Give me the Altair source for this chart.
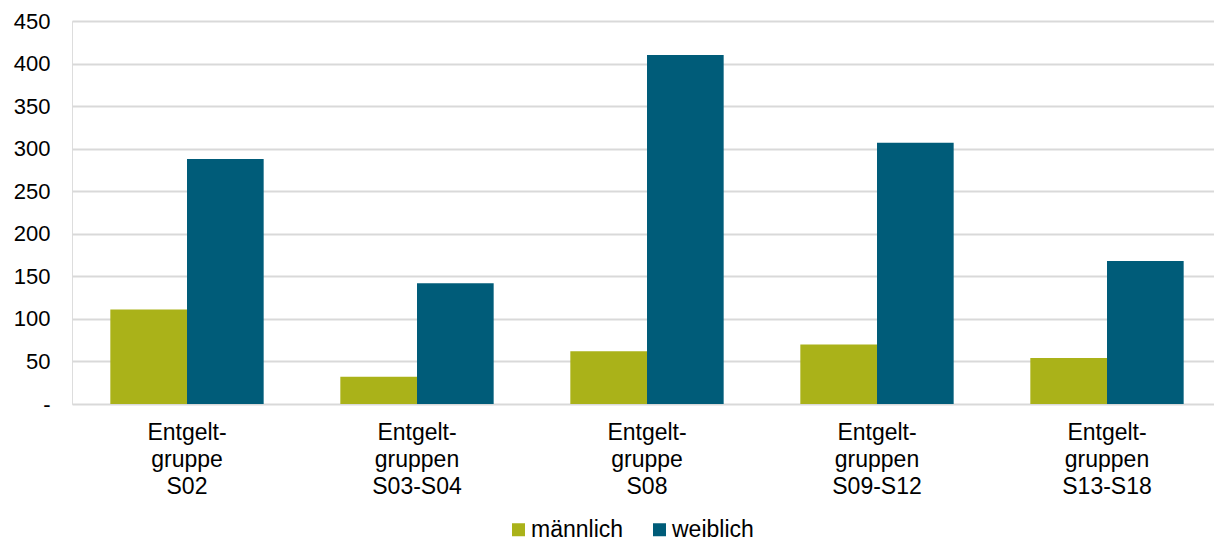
import altair as alt
import pandas as pd

categories = [
    "Entgelt-\ngruppe\nS02",
    "Entgelt-\ngruppen\nS03-S04",
    "Entgelt-\ngruppe\nS08",
    "Entgelt-\ngruppen\nS09-S12",
    "Entgelt-\ngruppen\nS13-S18",
]
series = ["männlich", "weiblich"]
maennlich = [111, 32, 62, 70, 54]
weiblich = [288, 142, 410, 307, 168]
y_ticks = [0, 50, 100, 150, 200, 250, 300, 350, 400, 450]
colors = ["#AAB219", "#005C79"]

rows = []
for c, m, w in zip(categories, maennlich, weiblich):
    rows.append({"Gruppe": c, "Geschlecht": series[0], "Wert": m})
    rows.append({"Gruppe": c, "Geschlecht": series[1], "Wert": w})
df = pd.DataFrame(rows)

FONT = "Liberation Sans"

chart = (
    alt.Chart(df)
    .mark_bar()
    .encode(
        x=alt.X(
            "Gruppe:N",
            sort=categories,
            title=None,
            scale=alt.Scale(paddingInner=1 / 3, paddingOuter=1 / 6, range=[0, 1150]),
            axis=alt.Axis(
                labelAngle=0,
                labelExpr="split(datum.label, '\\n')",
                labelFont=FONT,
                labelFontSize=23,
                labelColor="#000000",
                labelLineHeight=27,
                labelPadding=17,
                labelBaseline="top",
                ticks=False,
                domain=False,
                grid=False,
            ),
        ),
        xOffset=alt.XOffset(
            "Geschlecht:N",
            sort=series,
            scale=alt.Scale(paddingInner=0, paddingOuter=0),
        ),
        y=alt.Y(
            "Wert:Q",
            title=None,
            scale=alt.Scale(domain=[0, 450], nice=False),
            axis=alt.Axis(
                values=y_ticks,
                labelExpr="datum.value == 0 ? '-' : datum.label",
                labelFont=FONT,
                labelFontSize=22,
                labelColor="#000000",
                labelPadding=22,
                ticks=False,
                domain=False,
                grid=True,
                gridColor="#D9D9D9",
                gridWidth=2,
            ),
        ),
        color=alt.Color(
            "Geschlecht:N",
            sort=series,
            scale=alt.Scale(domain=series, range=colors),
            legend=alt.Legend(
                title=None,
                orient="none",
                legendX=435,
                legendY=497,
                direction="horizontal",
                symbolType="square",
                symbolSize=169,
                symbolStrokeWidth=0,
                labelFont=FONT,
                labelFontSize=23,
                labelColor="#000000",
                labelOffset=1,
                columnPadding=24,
                padding=0,
            ),
        ),
    )
    .properties(
        width=1142,
        height=383,
        autosize=alt.AutoSizeParams(type="none"),
        padding={"left": 64, "top": 13, "right": 0, "bottom": 140},
    )
    .configure_view(stroke=None)
    .configure(font=FONT)
)

chart.save("out.html", embed_options={"renderer": "svg", "actions": False})
